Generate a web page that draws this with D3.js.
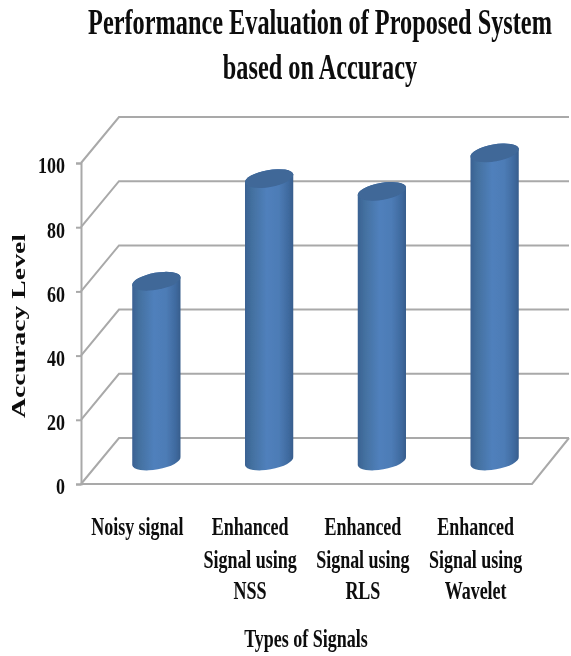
<!DOCTYPE html>
<html>
<head>
<meta charset="utf-8">
<script src="https://cdn.jsdelivr.net/npm/d3@7"></script>
<style>
  html, body { margin: 0; padding: 0; background: #fff; }
  text { font-family: "Liberation Serif", serif; font-weight: bold; fill: #0a0a0a; }
</style>
</head>
<body>
<div id="chart"></div>
<script>
// DATA
const categories = ['Noisy signal', 'Enhanced Signal using NSS', 'Enhanced Signal using RLS', 'Enhanced Signal using Wavelet']
const categoryLines = [['Noisy signal'], ['Enhanced', 'Signal using', 'NSS'], ['Enhanced', 'Signal using', 'RLS'], ['Enhanced', 'Signal using', 'Wavelet']]
const accuracy = [56, 88, 84, 96]
const yTicks = [0, 20, 40, 60, 80, 100]
const titleLines = ['Performance Evaluation of Proposed System', 'based on Accuracy']

const width = 571, height = 656

// 3D box: the back wall is the front plane moved by depth
const depthX = 38, depthY = -46
const floorLeft = 81, floorRight = 532

const svg = d3.select('#chart').append('svg')
  .attr('width', width).attr('height', height)
  .style('display', 'block')

const y = d3.scaleLinear().domain([0, 100]).range([484, 163])
const x = d3.scaleBand().domain(categories).range([floorLeft, floorRight]).paddingInner(0.59).paddingOuter(0.295)

// soft look of the scanned picture
const defs = svg.append('defs')
defs.append('filter').attr('id', 'soft').append('feGaussianBlur').attr('stdDeviation', 0.5)

const grad = defs.append('linearGradient').attr('id', 'barFill')
grad.selectAll('stop')
  .data([[0, '#3a6192'], [0.14, '#43709f'], [0.45, '#5080bc'], [0.7, '#4d7cb6'], [0.9, '#3f6a9f'], [1, '#375d8c']])
  .enter().append('stop')
  .attr('offset', d => d[0]).attr('stop-color', d => d[1])

const root = svg.append('g').attr('filter', 'url(#soft)')

// GRID: back wall line + side wall diagonal for every tick
const grid = root.append('g').attr('fill', 'none').attr('stroke', '#a9a9a9').attr('stroke-width', 2)
grid.selectAll('path.grid').data(yTicks).enter().append('path')
  .attr('class', 'grid')
  .attr('d', d => d3.line()([
    [floorLeft, y(d)],
    [floorLeft + depthX, y(d) + depthY],
    [floorRight + depthX - 1, y(d) + depthY]
  ]))

// floor
grid.append('path').attr('d', d3.line()([
  [floorLeft, y(0)],
  [floorRight, y(0)],
  [floorRight + depthX - 1, y(0) + depthY]
]))

// Y AXIS
const yAxis = d3.axisLeft(y).tickValues(yTicks).tickSize(5)
const yG = root.append('g').attr('transform', `translate(${floorLeft},0)`).call(yAxis)
yG.select('.domain').attr('stroke', '#a9a9a9').attr('stroke-width', 2)
yG.selectAll('.tick line').attr('stroke', '#a9a9a9').attr('stroke-width', 2)
yG.selectAll('.tick text')
  .style('font-family', '"Liberation Serif", serif')
  .style('font-weight', 'bold')
  .style('font-size', '24px')
  .attr('fill', '#0a0a0a')
  .attr('x', 0)
  .attr('dy', '0.37em')
  .attr('transform', 'translate(-16,1) scale(0.75,1)')

// BARS: cylinders stand in the middle of the depth
const rx = 24.5, ry = 8.5, tilt = -10
const ex = rx * Math.cos(tilt * Math.PI / 180), ey = rx * Math.sin(tilt * Math.PI / 180)
const barX = (d, i) => x(categories[i]) + x.bandwidth() / 2 + depthX / 2
const baseY = y(0) + depthY / 2

const bars = root.selectAll('g.bar').data(accuracy).enter().append('g').attr('class', 'bar')
bars.append('path')
  .attr('fill', 'url(#barFill)')
  .attr('d', (d, i) => {
    const cx = barX(d, i), top = y(d) + depthY / 2
    return `M${cx - ex},${top - ey}L${cx - ex},${baseY - ey}` +
      `A${rx},${ry} ${tilt} 0 0 ${cx + ex},${baseY + ey}` +
      `L${cx + ex},${top + ey}` +
      `A${rx},${ry} ${tilt} 0 0 ${cx - ex},${top - ey}Z`
  })
bars.append('ellipse')
  .attr('rx', rx).attr('ry', ry)
  .attr('fill', '#3f6798')
  .attr('transform', (d, i) => `translate(${barX(d, i)},${y(d) + depthY / 2}) rotate(${tilt})`)

// CATEGORY LABELS
const lineY = [535, 568, 599]
categoryLines.forEach((lines, i) => {
  root.append('g').selectAll('text').data(lines).enter().append('text')
    .attr('transform', (d, j) => `translate(${x(categories[i]) + x.bandwidth() / 2},${lineY[j]}) scale(0.72,1)`)
    .attr('text-anchor', 'middle')
    .attr('font-size', 25)
    .text(d => d)
})

// AXIS TITLES
root.append('text')
  .attr('transform', 'translate(25,326) rotate(-90) scale(1.46,1)')
  .attr('text-anchor', 'middle')
  .attr('font-size', 19)
  .text('Accuracy Level')

root.append('text')
  .attr('transform', 'translate(306,647) scale(0.72,1)')
  .attr('text-anchor', 'middle')
  .attr('font-size', 25)
  .text('Types of Signals')

// TITLE
root.selectAll('text.title').data(titleLines).enter().append('text')
  .attr('class', 'title')
  .attr('transform', (d, i) => `translate(320,${[34, 79][i]}) scale(0.675,1)`)
  .attr('text-anchor', 'middle')
  .attr('font-size', 36)
  .text(d => d)
</script>
</body>
</html>
